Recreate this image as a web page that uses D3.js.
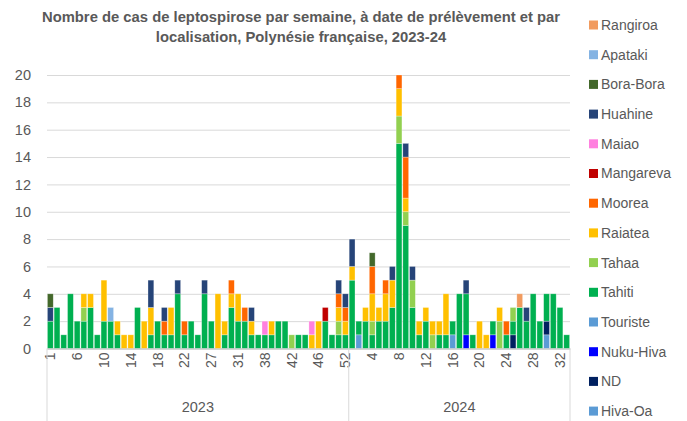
<!DOCTYPE html>
<html>
<head>
<meta charset="utf-8">
<script src="https://cdn.jsdelivr.net/npm/d3@7"></script>
<style>
body{margin:0;background:#fff;}
text{font-family:"Liberation Sans",Arial,sans-serif;fill:#595959;}
</style>
</head>
<body>
<div id="chart"></div>
<script>
// semaines présentes (catégories de l'axe)
const semaines2023=[1,2,3,4,6,7,8,9,10,11,12,13,14,15,16,17,18,19,20,21,22,23,24,25,27,28,29,30,31,32,33,34,38,39,40,41,42,43,44,45,46,47,48,50,52];
const semaines2024=[1,2,3,4,5,6,7,8,9,10,11,12,13,14,15,16,17,18,19,20,21,22,23,24,25,26,27,28,29,30,31,32,33];

// ordre d'empilement, du bas vers le haut
const lieux=["Hiva-Oa","ND","Nuku-Hiva","Touriste","Tahiti","Tahaa","Raiatea","Moorea","Mangareva","Maiao","Huahine","Bora-Bora","Apataki","Rangiroa"];
const couleurs=["#5B9BD5","#002060","#0000FF","#5B9BD5","#00B050","#92D050","#FFC000","#FF6600","#C00000","#FF80DF","#264478","#43682B","#84B3E3","#F19B5F"];

// cas par semaine : 45 semaines 2023 puis 33 semaines 2024
const hivaOa   =[0,0,0,0,0, 0,0,0,0,0, 0,0,0,0,0, 0,0,0,0,0, 0,0,0,0,0, 0,0,0,0,0, 0,0,0,0,0, 0,0,0,0,0, 0,0,0,0,0,  0,0,0,0,0, 0,0,0,0,0, 0,0,0,0,0, 0,0,0,0,0, 0,0,0,0,0, 0,0,0,0,1, 0,0,0];
const nd       =[0,0,0,0,0, 0,0,0,0,0, 0,0,0,0,0, 0,0,0,0,0, 0,0,0,0,0, 0,0,0,0,0, 0,0,0,0,0, 0,0,0,0,0, 0,0,0,0,0,  0,0,0,0,0, 0,0,0,0,0, 0,0,0,0,0, 0,0,0,0,0, 0,0,0,0,1, 0,0,0,0,1, 0,0,0];
const nukuHiva =[0,0,0,0,0, 0,0,0,0,0, 0,0,0,0,0, 0,0,0,0,0, 0,0,0,0,0, 0,0,0,0,0, 0,0,0,0,0, 0,0,0,0,0, 0,0,0,0,0,  0,0,0,0,0, 0,0,0,0,0, 0,0,0,0,0, 0,0,1,0,0, 0,1,0,0,0, 0,0,0,0,0, 0,0,0];
const touriste =[0,0,0,0,0, 0,0,0,0,0, 0,0,0,0,0, 0,0,0,0,0, 0,0,0,0,0, 0,0,0,0,0, 0,0,0,0,0, 0,0,0,0,0, 0,0,0,0,0,  0,1,0,0,0, 0,0,0,0,0, 0,0,0,0,0, 1,0,0,0,0, 0,0,0,0,0, 0,0,0,0,0, 0,0,0];
const tahiti   =[2,3,1,4,2, 2,3,1,2,2, 1,0,0,3,0, 1,2,1,1,4, 1,2,1,4,2, 0,1,3,2,2, 1,1,1,1,2, 2,0,1,1,0, 0,2,1,1,1,  5,1,2,1,2, 2,3,15,9,3, 1,2,0,1,1, 1,4,3,1,0, 0,1,0,1,1, 3,2,4,2,2, 4,3,1];
const tahaa    =[0,0,0,0,0, 1,0,0,0,0, 0,0,0,0,0, 0,0,0,0,0, 0,0,0,0,0, 0,0,0,0,0, 0,0,0,0,0, 0,1,0,0,0, 0,0,0,1,0,  0,0,0,1,0, 0,0,2,1,2, 0,0,1,0,0, 0,0,0,0,0, 0,0,2,0,1, 0,0,0,0,0, 0,0,0];
const raiatea  =[0,0,0,0,0, 1,1,0,3,0, 1,1,1,0,2, 2,0,0,2,0, 0,0,0,0,0, 4,1,1,2,0, 1,0,0,1,0, 0,0,0,0,1, 2,0,0,1,1,  1,0,1,2,1, 2,2,2,1,0, 1,1,1,1,3, 0,0,0,0,2, 1,0,1,0,0, 0,0,0,0,0, 0,0,0];
const moorea   =[0,0,0,0,0, 0,0,0,0,0, 0,0,0,0,0, 0,0,1,0,0, 1,0,0,0,0, 0,0,1,0,1, 0,0,0,0,0, 0,0,0,0,0, 0,0,0,1,1,  0,0,0,2,0, 1,0,1,3,0, 0,0,0,0,0, 0,0,0,0,0, 0,0,0,1,0, 0,0,0,0,0, 0,0,0];
const mangareva=[0,0,0,0,0, 0,0,0,0,0, 0,0,0,0,0, 0,0,0,0,0, 0,0,0,0,0, 0,0,0,0,0, 0,0,0,0,0, 0,0,0,0,0, 0,1,0,0,0,  0,0,0,0,0, 0,0,0,0,0, 0,0,0,0,0, 0,0,0,0,0, 0,0,0,0,0, 0,0,0,0,0, 0,0,0];
const maiao    =[0,0,0,0,0, 0,0,0,0,0, 0,0,0,0,0, 0,0,0,0,0, 0,0,0,0,0, 0,0,0,0,0, 0,0,1,0,0, 0,0,0,0,1, 0,0,0,0,0,  0,0,0,0,0, 0,0,0,0,0, 0,0,0,0,0, 0,0,0,0,0, 0,0,0,0,0, 0,0,0,0,0, 0,0,0];
const huahine  =[1,0,0,0,0, 0,0,0,0,0, 0,0,0,0,0, 2,0,1,0,1, 0,0,0,1,0, 0,0,0,0,0, 1,0,0,0,0, 0,0,0,0,0, 0,0,0,1,1,  2,0,0,0,0, 0,1,0,1,1, 0,0,0,0,0, 0,0,1,0,0, 0,0,0,0,0, 0,1,0,0,0, 0,0,0];
const boraBora =[1,0,0,0,0, 0,0,0,0,0, 0,0,0,0,0, 0,0,0,0,0, 0,0,0,0,0, 0,0,0,0,0, 0,0,0,0,0, 0,0,0,0,0, 0,0,0,0,0,  0,0,0,1,0, 0,0,0,0,0, 0,0,0,0,0, 0,0,0,0,0, 0,0,0,0,0, 0,0,0,0,0, 0,0,0];
const apataki  =[0,0,0,0,0, 0,0,0,0,1, 0,0,0,0,0, 0,0,0,0,0, 0,0,0,0,0, 0,0,0,0,0, 0,0,0,0,0, 0,0,0,0,0, 0,0,0,0,0,  0,0,0,0,0, 0,0,0,0,0, 0,0,0,0,0, 0,0,0,0,0, 0,0,0,0,0, 0,0,0,0,0, 0,0,0];
const rangiroa =[0,0,0,0,0, 0,0,0,0,0, 0,0,0,0,0, 0,0,0,0,0, 0,0,0,0,0, 0,0,0,0,0, 0,0,0,0,0, 0,0,0,0,0, 0,0,0,0,0,  0,0,0,0,0, 0,0,0,0,0, 0,0,0,0,0, 0,0,0,0,0, 0,0,0,0,0, 1,0,0,0,0, 0,0,0];

const yTicks=[0,2,4,6,8,10,12,14,16,18,20];

const parLieu={
"Hiva-Oa":hivaOa,"ND":nd,"Nuku-Hiva":nukuHiva,"Touriste":touriste,
"Tahiti":tahiti,"Tahaa":tahaa,"Raiatea":raiatea,"Moorea":moorea,
"Mangareva":mangareva,"Maiao":maiao,"Huahine":huahine,"Bora-Bora":boraBora,
"Apataki":apataki,"Rangiroa":rangiroa
};

const cats=semaines2023.map(s=>({annee:"2023",semaine:s}))
.concat(semaines2024.map(s=>({annee:"2024",semaine:s})));

const lignes=cats.map((c,i)=>{
const r={id:c.annee+"-"+c.semaine,annee:c.annee,semaine:c.semaine};
lieux.forEach(l=>{r[l]=parLieu[l][i];});
return r;
});

const width=687, height=421;
const x0=47, x1=570;

const svg=d3.select("#chart")
.append("svg")
.attr("width",width)
.attr("height",height);

const x=d3.scaleBand()
.domain(lignes.map(d=>d.id))
.range([x0,x1])
.paddingInner(0.13)
.paddingOuter(0.06);

const y=d3.scaleLinear()
.domain([0,20])
.range([348.5,75]);

const couleur=d3.scaleOrdinal().domain(lieux).range(couleurs);

// TITRE
svg.append("text")
.attr("x",301).attr("y",22)
.attr("text-anchor","middle")
.style("font-size","14.8px").style("font-weight","bold")
.text("Nombre de cas de leptospirose par semaine, à date de prélèvement et par");

svg.append("text")
.attr("x",301).attr("y",42)
.attr("text-anchor","middle")
.style("font-size","14.8px").style("font-weight","bold")
.text("localisation, Polynésie française, 2023-24");

// GRILLE
const grille=svg.append("g")
.attr("transform","translate("+x0+",0)")
.call(d3.axisLeft(y).tickValues(yTicks).tickSize(-(x1-x0)).tickFormat(""));
grille.select(".domain").remove();
grille.selectAll("line").attr("stroke","#d9d9d9");

// AXE Y
const axeY=svg.append("g")
.attr("transform","translate("+x0+",0)")
.call(d3.axisLeft(y).tickValues(yTicks).tickSize(0).tickPadding(16));
axeY.select(".domain").remove();
axeY.selectAll("text").style("font-size","14.5px").style("fill","#595959");

// BARRES
const pile=d3.stack().keys(lieux)(lignes);

svg.append("g")
.selectAll("g")
.data(pile)
.enter()
.append("g")
.attr("fill",d=>couleur(d.key))
.selectAll("rect")
.data(d=>d.filter(p=>p[1]-p[0]>0))
.enter()
.append("rect")
.attr("x",d=>x(d.data.id))
.attr("y",d=>y(d[1]))
.attr("width",x.bandwidth())
.attr("height",d=>y(d[0])-y(d[1]))
.attr("stroke","#ffffff")
.attr("stroke-opacity",0.5)
.attr("stroke-width",0.6);

// AXE X
const axeX=svg.append("g")
.attr("transform","translate(0,348.5)")
.call(d3.axisBottom(x)
.tickValues(lignes.filter((d,i)=>i%4===0).map(d=>d.id))
.tickSize(0)
.tickFormat(id=>id.split("-")[1]));
axeX.select(".domain").attr("stroke","#bfbfbf");
axeX.selectAll("text")
.attr("transform","rotate(-90)")
.attr("text-anchor","end")
.attr("x",-4)
.attr("y",0)
.attr("dy","0.35em")
.style("font-size","14px")
.style("fill","#595959");

// séparateurs des années
const frontiere=x(lignes[semaines2023.length].id)-x.step()*x.paddingInner()/2;
[x0,frontiere,x1].forEach(px=>{
svg.append("line")
.attr("x1",px).attr("x2",px)
.attr("y1",348.5).attr("y2",421)
.attr("stroke","#d9d9d9");
});

svg.append("text")
.attr("x",(x0+frontiere)/2).attr("y",412)
.attr("text-anchor","middle")
.style("font-size","14.5px")
.text("2023");

svg.append("text")
.attr("x",(frontiere+x1)/2).attr("y",412)
.attr("text-anchor","middle")
.style("font-size","14.5px")
.text("2024");

// LEGENDE
const legende=svg.append("g")
.selectAll("g")
.data(lieux.slice().reverse())
.enter()
.append("g")
.attr("transform",(d,i)=>"translate(589,"+(25+29.7*i)+")");

legende.append("rect")
.attr("x",0).attr("y",-4.5)
.attr("width",9).attr("height",9)
.attr("fill",d=>couleur(d));

legende.append("text")
.attr("x",12).attr("y",0)
.attr("dy","0.35em")
.style("font-size","14px")
.text(d=>d);
</script>
</body>
</html>
